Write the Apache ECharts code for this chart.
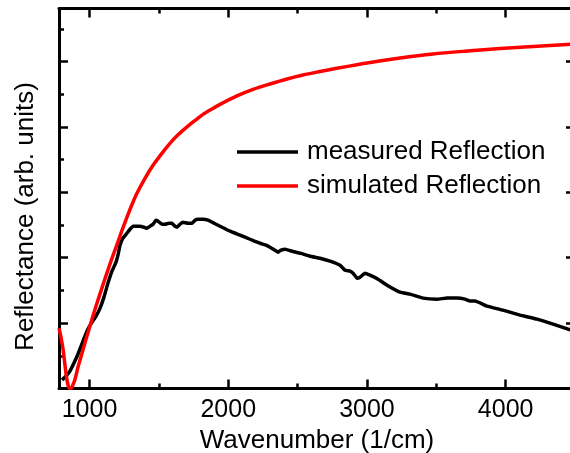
<!DOCTYPE html>
<html>
<head>
<meta charset="utf-8">
<script src="https://cdn.jsdelivr.net/npm/echarts@6/dist/echarts.min.js"></script>
<style>
html,body{margin:0;padding:0;background:#fff;}
#chart{width:570px;height:453px;}
</style>
</head>
<body>
<div id="chart"></div>
<script>
// Data
var seriesNames = ['measured Reflection', 'simulated Reflection'];
var xTickLabels = [1000, 2000, 3000, 4000];

var measuredX = [802, 831, 859, 888, 917, 953, 989, 1018, 1047, 1076, 1104, 1133, 1162, 1191, 1205, 1220, 1241, 1270, 1292, 1314, 1342, 1364, 1393, 1414, 1436, 1458, 1479, 1494, 1523, 1544, 1573, 1595, 1616, 1631, 1652, 1674, 1710, 1739, 1761, 1782, 1818, 1854, 1898, 1941, 2013, 2085, 2157, 2229, 2273, 2301, 2337, 2359, 2381, 2410, 2460, 2518, 2590, 2662, 2734, 2806, 2842, 2878, 2900, 2929, 2950, 2986, 3022, 3080, 3145, 3239, 3311, 3405, 3506, 3578, 3650, 3707, 3743, 3779, 3866, 3981, 4104, 4226, 4342, 4450, 4500];
var measuredY = [0.130, 0.191, 0.267, 0.389, 0.527, 0.725, 0.908, 1.015, 1.107, 1.229, 1.397, 1.611, 1.794, 1.931, 2.038, 2.191, 2.298, 2.374, 2.435, 2.481, 2.481, 2.481, 2.466, 2.450, 2.481, 2.511, 2.573, 2.557, 2.511, 2.511, 2.527, 2.527, 2.481, 2.466, 2.511, 2.542, 2.527, 2.527, 2.573, 2.588, 2.588, 2.573, 2.527, 2.481, 2.405, 2.344, 2.282, 2.221, 2.191, 2.160, 2.115, 2.084, 2.115, 2.130, 2.099, 2.069, 2.023, 1.992, 1.947, 1.885, 1.809, 1.794, 1.763, 1.687, 1.702, 1.763, 1.733, 1.672, 1.580, 1.473, 1.443, 1.382, 1.366, 1.382, 1.382, 1.366, 1.336, 1.336, 1.260, 1.198, 1.122, 1.061, 0.985, 0.908, 0.878];

var simulatedX = [780, 794, 809, 823, 834, 845, 856, 867, 877, 895, 917, 939, 968, 1016, 1047, 1088, 1119, 1160, 1191, 1232, 1263, 1304, 1342, 1400, 1458, 1516, 1580, 1638, 1703, 1761, 1818, 1883, 1941, 2063, 2179, 2301, 2424, 2539, 2662, 2756, 3001, 3239, 3477, 3722, 3960, 4198, 4443, 4500];
var simulatedY = [0.924, 0.786, 0.603, 0.359, 0.176, 0.053, 0.004, 0.004, 0.038, 0.137, 0.328, 0.489, 0.702, 1.046, 1.260, 1.527, 1.725, 1.977, 2.160, 2.405, 2.580, 2.802, 2.985, 3.214, 3.412, 3.580, 3.748, 3.878, 4.000, 4.099, 4.191, 4.275, 4.344, 4.473, 4.573, 4.656, 4.733, 4.794, 4.847, 4.885, 4.977, 5.053, 5.115, 5.160, 5.198, 5.229, 5.260, 5.267];

function zip(xs, ys) { return xs.map(function (x, i) { return [x, ys[i]]; }); }

var FONT = "'Liberation Sans', Arial, Helvetica, sans-serif";
var X_MIN = 780, X_MAX = 4500, Y_MIN = 0, Y_MAX = 5.81;

var tickStyle = { show: true, inside: true, length: 9, lineStyle: { color: '#000', width: 2.5 } };
var minorStyle = { show: true, splitNumber: 2, length: 5, lineStyle: { color: '#000', width: 2.5 } };
var lineStyleAxis = { show: true, onZero: false, lineStyle: { color: '#000', width: 3 } };

var chart = echarts.init(document.getElementById('chart'), null, { renderer: 'canvas' });
chart.setOption({
  animation: false,
  backgroundColor: '#fff',
  grid: { left: 59, right: -5, top: 8.5, bottom: 64.5, containLabel: false, outerBoundsMode: 'none' },
  legend: {
    orient: 'vertical', left: 237, top: 139, padding: 0,
    icon: 'rect', itemWidth: 61, itemHeight: 3.5, itemGap: 8,
    textStyle: { fontSize: 26, fontFamily: FONT, color: '#000', padding: [0, 0, 0, 4] },
    data: seriesNames
  },
  xAxis: [{
    type: 'value', position: 'bottom', min: X_MIN, max: X_MAX,
    axisLine: lineStyleAxis, axisTick: tickStyle, minorTick: minorStyle,
    splitLine: { show: false },
    axisLabel: {
      color: '#000', fontSize: 25, fontFamily: FONT, margin: 9,
      showMinLabel: false, showMaxLabel: false,
      formatter: function (v) { return xTickLabels.indexOf(v) >= 0 ? String(v) : ''; }
    },
    name: 'Wavenumber (1/cm)', nameLocation: 'middle', nameGap: 35,
    nameTextStyle: { fontSize: 26, fontFamily: FONT, color: '#000' }
  }, {
    type: 'value', position: 'top', min: X_MIN, max: X_MAX,
    axisLine: lineStyleAxis, axisTick: tickStyle, minorTick: minorStyle,
    splitLine: { show: false }, axisLabel: { show: false }
  }],
  yAxis: [{
    type: 'value', position: 'left', min: Y_MIN, max: Y_MAX, interval: 1,
    axisLine: lineStyleAxis, axisTick: tickStyle, minorTick: minorStyle,
    splitLine: { show: false }, axisLabel: { show: false },
    name: 'Reflectance (arb. units)', nameLocation: 'middle', nameGap: 20, nameRotate: 90,
    nameTextStyle: { fontSize: 26, fontFamily: FONT, color: '#000', padding: [0, 36, 0, 0] }
  }, {
    type: 'value', position: 'right', min: Y_MIN, max: Y_MAX, interval: 1,
    axisLine: lineStyleAxis, axisTick: tickStyle, minorTick: minorStyle,
    splitLine: { show: false }, axisLabel: { show: false }
  }],
  series: [{
    name: seriesNames[0], type: 'line', symbol: 'none', smooth: 0.1,
    lineStyle: { color: '#000', width: 3.5, join: 'round' }, itemStyle: { color: '#000' },
    data: zip(measuredX, measuredY)
  }, {
    name: seriesNames[1], type: 'line', symbol: 'none', smooth: 0.3,
    lineStyle: { color: '#ff0000', width: 3.5, join: 'round' }, itemStyle: { color: '#ff0000' },
    data: zip(simulatedX, simulatedY)
  }]
});
</script>
</body>
</html>
